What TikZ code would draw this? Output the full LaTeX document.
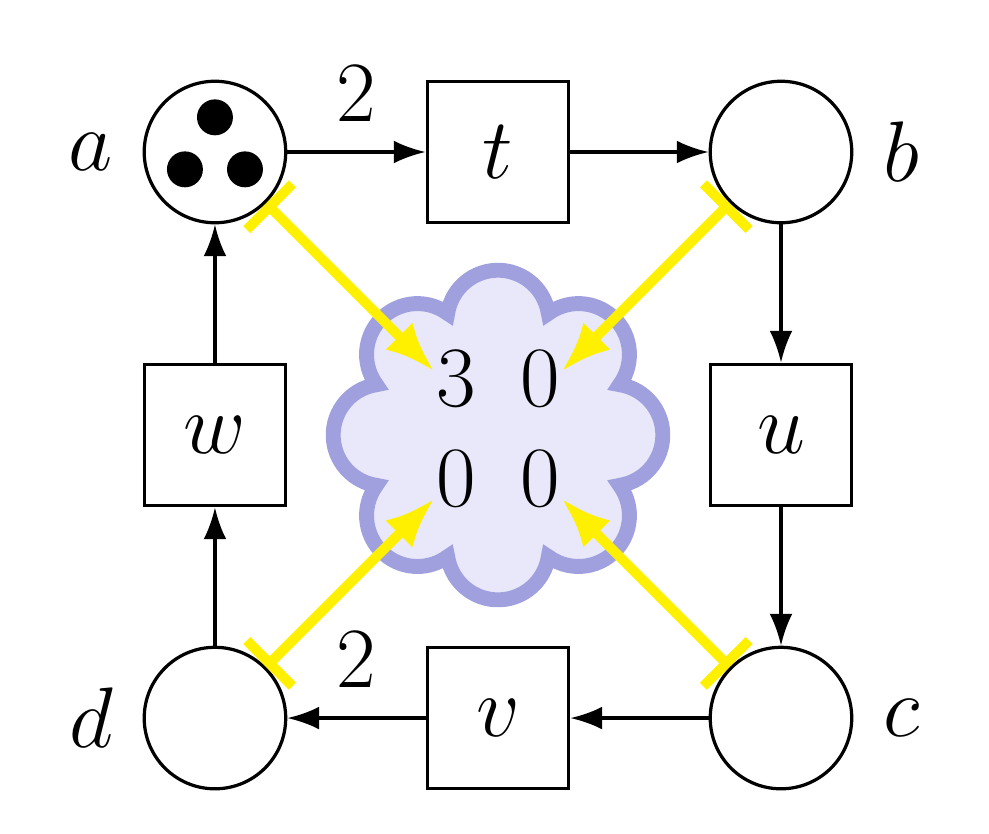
\documentclass[tikz,border=0pt]{standalone}
\usetikzlibrary{arrows.meta}
\definecolor{cloudedge}{RGB}{160,160,222}
\definecolor{cloudfill}{RGB}{232,232,250}
\definecolor{ylw}{RGB}{255,240,0}
\begin{document}
\fontsize{17.28pt}{20pt}\selectfont
\begin{tikzpicture}[
  font=\fontsize{17.28pt}{20pt}\selectfont,
  place/.style={circle,draw,line width=0.65pt,minimum size=1cm,inner sep=0pt},
  trans/.style={rectangle,draw,line width=0.65pt,minimum size=1cm,inner sep=0pt},
  flow/.style={line width=0.65pt,-{Latex[length=6.4pt,width=4.6pt]}},
  yarrow/.style={draw=ylw,line width=2pt,{Bar[width=13pt]}-{Latex[length=10pt,width=7.7pt]}},
  cloudline/.style={draw=cloudedge,fill=cloudfill,line width=3pt},
  cell/.style={anchor=base,inner sep=0pt}
]
\useasboundingbox (0,0) rectangle (6.989,-5.887);
% cloud
\begin{scope}[shift={(3.519,-3.074)}]
  \draw[cloudline] (-22.5:0.93)
    foreach \p in {0,45,...,315} { arc[start angle=\p-81.3, end angle=\p+81.3, radius=0.36] } -- cycle;
\end{scope}
\node[minimum size=0.9cm,inner sep=0pt,outer sep=0pt] (m) at (3.519,-3.074) {};
\node[cell] (m11) at (3.223,-2.869) {$3$};
\node[cell] (m12) at (3.816,-2.869) {$0$};
\node[cell] (m21) at (3.223,-3.576) {$0$};
\node[cell] (m22) at (3.816,-3.576) {$0$};
% places
\node[place,label=left:$a$] (a) at (1.519,-1.074) {};
\node[place,label=right:$b$] (b) at (5.519,-1.074) {};
\node[place,label=right:$c$] (c) at (5.519,-5.074) {};
\node[place,label=left:$d$] (d) at (1.519,-5.074) {};
\foreach \ang in {90,210,330} \fill (a) ++(\ang:0.245) circle[radius=0.127];
% transitions
\node[trans] (t) at (3.519,-1.074) {$t$};
\node[trans] (u) at (5.519,-3.074) {$u$};
\node[trans] (v) at (3.519,-5.074) {$v$};
\node[trans] (w) at (1.519,-3.074) {$w$};
% arcs
\draw[flow] (a) -- node[above] (two1) {$2$} (t);
\draw[flow] (t) -- (b);
\draw[flow] (b) -- (u);
\draw[flow] (u) -- (c);
\draw[flow] (c) -- (v);
\draw[flow] (v) -- node[above] (two2) {$2$} (d);
\draw[flow] (d) -- (w);
\draw[flow] (w) -- (a);
% yellow arrows
\draw[yarrow] (a.south east) -- (m.north west);
\draw[yarrow] (b.south west) -- (m.north east);
\draw[yarrow] (c.north west) -- (m.south east);
\draw[yarrow] (d.north east) -- (m.south west);
\end{tikzpicture}
\end{document}
